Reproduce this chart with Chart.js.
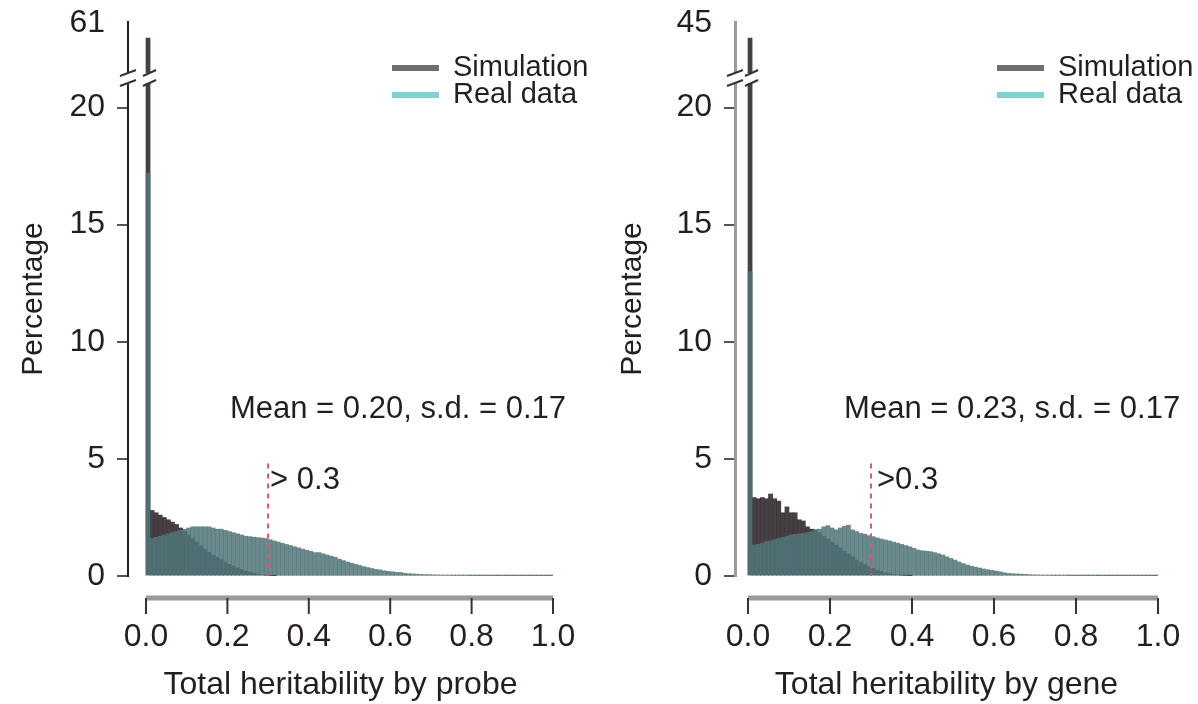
<!DOCTYPE html>
<html>
<head>
<meta charset="utf-8">
<script src="https://cdn.jsdelivr.net/npm/chart.js@4.4.1/dist/chart.umd.min.js"></script>
<style>
  html, body { margin: 0; padding: 0; background: #fff; }
  .wrap { display: flex; width: 1198px; height: 704px; }
  .panel { position: relative; width: 599px; height: 704px; }
</style>
</head>
<body>
<div class="wrap">
  <div class="panel"><canvas id="probeChart"></canvas></div>
  <div class="panel"><canvas id="geneChart"></canvas></div>
</div>
<script>
// histogram bins of 0.01 from 0 to 1, values in percent
const binWidth = 0.01;

const probeSimulation = [
  53.8, 2.8, 2.7, 2.6, 2.5, 2.4, 2.3, 2.2, 2.05, 1.9,
  1.75, 1.6, 1.45, 1.3, 1.15, 1.0, 0.9, 0.8, 0.7, 0.6,
  0.5, 0.42, 0.35, 0.28, 0.22, 0.17, 0.12, 0.08, 0.05, 0.03,
  0.02, 0.01, 0, 0, 0, 0, 0, 0, 0, 0,
  0, 0, 0, 0, 0, 0, 0, 0, 0, 0,
  0, 0, 0, 0, 0, 0, 0, 0, 0, 0,
  0, 0, 0, 0, 0, 0, 0, 0, 0, 0,
  0, 0, 0, 0, 0, 0, 0, 0, 0, 0,
  0, 0, 0, 0, 0, 0, 0, 0, 0, 0,
  0, 0, 0, 0, 0, 0, 0, 0, 0, 0
];
const probeReal = [
  17.2, 1.6, 1.65, 1.7, 1.75, 1.8, 1.85, 1.9, 1.95, 2.0,
  2.05, 2.1, 2.1, 2.1, 2.1, 2.1, 2.05, 2.0, 2.0, 1.95,
  1.9, 1.85, 1.8, 1.75, 1.7, 1.68, 1.66, 1.64, 1.62, 1.6,
  1.55, 1.5, 1.45, 1.4, 1.35, 1.3, 1.25, 1.2, 1.15, 1.1,
  1.05, 1.0, 1.0, 0.95, 0.9, 0.85, 0.8, 0.72, 0.66, 0.6,
  0.55, 0.5, 0.45, 0.4, 0.36, 0.32, 0.28, 0.26, 0.22, 0.2,
  0.18, 0.16, 0.15, 0.12, 0.1, 0.09, 0.08, 0.07, 0.06, 0.06,
  0.05, 0.05, 0.04, 0.04, 0.04, 0.03, 0.03, 0.03, 0.03, 0.02,
  0.02, 0.02, 0.02, 0.02, 0.02, 0.02, 0.01, 0.02, 0.01, 0.01,
  0.01, 0.01, 0.01, 0.01, 0.01, 0.01, 0.01, 0.01, 0.01, 0.01
];
const geneSimulation = [
  40.6, 3.35, 3.3, 3.35, 3.3, 3.5, 3.3, 3.2, 2.7, 2.95,
  2.7, 2.7, 2.4, 2.35, 2.1, 2.0, 1.97, 1.85, 1.7, 1.58,
  1.45, 1.32, 1.2, 1.07, 0.95, 0.82, 0.68, 0.58, 0.48, 0.4,
  0.32, 0.25, 0.19, 0.14, 0.1, 0.07, 0.05, 0.03, 0.02, 0.01,
  0, 0, 0, 0, 0, 0, 0, 0, 0, 0,
  0, 0, 0, 0, 0, 0, 0, 0, 0, 0,
  0, 0, 0, 0, 0, 0, 0, 0, 0, 0,
  0, 0, 0, 0, 0, 0, 0, 0, 0, 0,
  0, 0, 0, 0, 0, 0, 0, 0, 0, 0,
  0, 0, 0, 0, 0, 0, 0, 0, 0, 0
];
const geneReal = [
  13.0, 1.32, 1.35, 1.4, 1.47, 1.5, 1.55, 1.6, 1.65, 1.7,
  1.75, 1.78, 1.8, 1.82, 1.85, 1.9, 1.97, 2.0, 2.1, 2.15,
  2.05, 1.97, 2.05, 2.12, 2.17, 1.97, 1.9, 1.82, 1.78, 1.72,
  1.68, 1.63, 1.58, 1.54, 1.5, 1.45, 1.4, 1.35, 1.3, 1.25,
  1.18, 1.11, 1.08, 1.06, 1.04, 1.0, 0.95, 0.9, 0.82, 0.75,
  0.68, 0.6, 0.53, 0.47, 0.42, 0.38, 0.34, 0.3, 0.27, 0.24,
  0.21, 0.18, 0.14, 0.11, 0.1, 0.09, 0.08, 0.07, 0.06, 0.05,
  0.05, 0.04, 0.04, 0.04, 0.03, 0.03, 0.03, 0.03, 0.02, 0.02,
  0.02, 0.02, 0.02, 0.02, 0.02, 0.01, 0.02, 0.01, 0.01, 0.01,
  0.01, 0.01, 0.01, 0.01, 0.01, 0.01, 0.01, 0.01, 0.01, 0.01
];

const xTickValues = [0, 0.2, 0.4, 0.6, 0.8, 1.0];
const yTickValues = [0, 5, 10, 15, 20];
const probeTopLabel = 61;
const geneTopLabel = 45;
const cutoff = 0.3;

// broken y axis: 0-20 linear, everything above squeezed into 3.6 units
const breakAt = 20;
const squeezed = 3.6;
function toDisplay(v, top) {
    return v <= breakAt ? v : breakAt + (v - breakAt) * squeezed / (top - breakAt);
}

const FONT = "'Liberation Sans', Arial, Helvetica, sans-serif";
const INK = '#231f20';

function makeBars(values, top) {
    return values.map((v, i) => ({ x: (i + 0.5) * binWidth, y: toDisplay(v, top) }));
}

const decorations = {
    id: 'decorations',
    afterDatasetsDraw(chart, args, opts) {
        const { ctx, chartArea } = chart;
        const xs = chart.scales.x;
        const ys = chart.scales.y;
        ctx.save();

        // red dashed cut-off line
        const cx = xs.getPixelForValue(cutoff);
        ctx.strokeStyle = '#d9576f';
        ctx.lineWidth = 2;
        ctx.setLineDash([5, 5]);
        ctx.beginPath();
        ctx.moveTo(cx, ys.getPixelForValue(4.8));
        ctx.lineTo(cx, ys.getPixelForValue(0));
        ctx.stroke();
        ctx.setLineDash([]);

        // axis break across y axis and the tall first bar
        const by = ys.getPixelForValue(21.26);
        const x0 = chartArea.left - 9;
        const x1 = xs.getPixelForValue(binWidth) + 6;
        ctx.fillStyle = '#fff';
        ctx.fillRect(x0, by - 5, x1 - x0, 10);
        ctx.strokeStyle = '#333';
        ctx.lineWidth = 2;
        [by - 5, by + 5].forEach(yy => {
            ctx.beginPath();
            ctx.moveTo(chartArea.left - 8, yy + 3);
            ctx.lineTo(chartArea.left + 8, yy - 3);
            ctx.moveTo(xs.getPixelForValue(0) - 3, yy + 3);
            ctx.lineTo(x1, yy - 3);
            ctx.stroke();
        });

        // detached x axis line with ticks
        const ay = chartArea.bottom + 22;
        ctx.strokeStyle = '#9a9a9a';
        ctx.lineWidth = 5;
        ctx.beginPath();
        ctx.moveTo(xs.getPixelForValue(0), ay);
        ctx.lineTo(xs.getPixelForValue(1), ay);
        ctx.stroke();
        ctx.strokeStyle = '#333';
        ctx.lineWidth = 2;
        xTickValues.forEach(v => {
            const px = xs.getPixelForValue(v);
            ctx.beginPath();
            ctx.moveTo(px, ay);
            ctx.lineTo(px, ay + 16);
            ctx.stroke();
        });

        // texts
        ctx.fillStyle = INK;
        ctx.font = '31px ' + FONT;
        ctx.textBaseline = 'middle';
        ctx.textAlign = 'right';
        ctx.fillText(opts.note, xs.getPixelForValue(opts.noteX), ys.getPixelForValue(7.1));
        ctx.textAlign = 'left';
        ctx.fillText(opts.cut, cx + opts.cutGap, ys.getPixelForValue(4.06));

        // legend
        const items = [
            { label: chart.data.datasets[1].label, color: '#6e6e6e', y: 68 },
            { label: chart.data.datasets[0].label, color: '#82d0d0', y: 95 }
        ];
        ctx.font = '29px ' + FONT;
        items.forEach(it => {
            ctx.strokeStyle = it.color;
            ctx.lineWidth = 6;
            ctx.beginPath();
            ctx.moveTo(chartArea.right - 161, it.y);
            ctx.lineTo(chartArea.right - 114, it.y);
            ctx.stroke();
            ctx.fillText(it.label, chartArea.right - 100, it.y);
        });
        ctx.restore();
    }
};

function renderPanel(p) {
    const ctx = document.getElementById(p.id);
    const topDisplay = breakAt + squeezed;
    return new Chart(ctx, {
        type: 'bar',
        data: {
            datasets: [
                {
                    label: 'Real data',
                    data: makeBars(p.real, p.top),
                    backgroundColor: 'rgba(82, 118, 122, 0.85)',
                    grouped: false,
                    order: 0,
                    barPercentage: 1,
                    categoryPercentage: 1
                },
                {
                    label: 'Simulation',
                    data: makeBars(p.sim, p.top),
                    backgroundColor: 'rgba(56, 48, 54, 0.93)',
                    grouped: false,
                    order: 1,
                    barPercentage: 1,
                    categoryPercentage: 1
                }
            ]
        },
        options: {
            responsive: true,
            maintainAspectRatio: false,
            animation: false,
            events: [],
            layout: { padding: { top: 22, right: p.padRight, bottom: 0, left: 0 } },
            plugins: {
                legend: { display: false },
                tooltip: { enabled: false },
                decorations: { note: p.note, noteX: p.noteX, cut: p.cut, cutGap: p.cutGap }
            },
            scales: {
                x: {
                    type: 'linear',
                    min: p.xMin,
                    max: 1,
                    offset: false,
                    grid: { display: false, drawTicks: false },
                    border: { display: false },
                    afterBuildTicks: (s) => { s.ticks = xTickValues.map(v => ({ value: v })); },
                    afterFit: (s) => {
                        s.height = 128;
                        s.paddingLeft = 0;
                        s.paddingRight = 0;
                    },
                    ticks: {
                        padding: 42,
                        color: INK,
                        font: { family: FONT, size: 32 },
                        callback: (v) => v.toFixed(1)
                    },
                    title: {
                        display: true,
                        text: p.xTitle,
                        color: INK,
                        font: { family: FONT, size: 32 },
                        padding: { top: 0, bottom: 0 }
                    }
                },
                y: {
                    min: 0,
                    max: topDisplay + 0.05,
                    grid: {
                        drawOnChartArea: false,
                        drawTicks: true,
                        tickLength: 11,
                        lineWidth: 2,
                        tickColor: (c) => (c.tick && c.tick.value > breakAt) ? 'rgba(0,0,0,0)' : '#555'
                    },
                    border: { display: true, color: p.axisColor, width: p.axisWidth },
                    afterBuildTicks: (s) => { s.ticks = yTickValues.concat([topDisplay]).map(v => ({ value: v })); },
                    afterFit: (s) => {
                        s.width = p.yAxisWidth;
                        s.paddingTop = 0;
                        s.paddingBottom = 0;
                    },
                    ticks: {
                        padding: 12,
                        color: INK,
                        font: { family: FONT, size: 32 },
                        callback: (v) => v > breakAt ? String(p.top) : String(v)
                    },
                    title: {
                        display: true,
                        text: 'Percentage',
                        color: INK,
                        font: { family: FONT, size: 30 },
                        padding: { top: 16, bottom: 0 }
                    }
                }
            }
        },
        plugins: [decorations]
    });
}

document.addEventListener('DOMContentLoaded', () => {
    renderPanel({
        id: 'probeChart', sim: probeSimulation, real: probeReal, top: probeTopLabel,
        xTitle: 'Total heritability by probe', note: 'Mean = 0.20, s.d. = 0.17', noteX: 1.032,
        cut: '> 0.3', cutGap: 2, xMin: -0.0442, padRight: 46, yAxisWidth: 128,
        axisColor: '#222', axisWidth: 2
    });
    renderPanel({
        id: 'geneChart', sim: geneSimulation, real: geneReal, top: geneTopLabel,
        xTitle: 'Total heritability by gene', note: 'Mean = 0.23, s.d. = 0.17', noteX: 1.054,
        cut: '>0.3', cutGap: 6, xMin: -0.0317, padRight: 40, yAxisWidth: 136,
        axisColor: '#9a9a9a', axisWidth: 3
    });
});
</script>
</body>
</html>
